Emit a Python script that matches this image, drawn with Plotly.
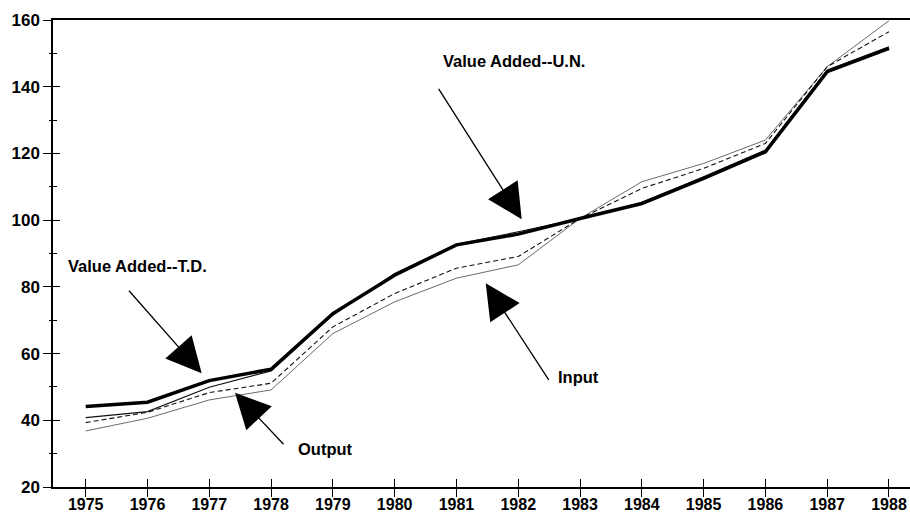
import plotly.graph_objects as go

years = [1975, 1976, 1977, 1978, 1979, 1980, 1981, 1982, 1983, 1984, 1985, 1986, 1987, 1988]
value_added_un = [44.1, 45.4, 51.9, 55.3, 72.0, 83.5, 92.6, 95.8, 100.5, 105.0, 112.5, 120.5, 144.5, 151.5]
value_added_td = [40.8, 42.6, 49.9, 54.8, 71.5, 84.0, 92.8, 96.5, 100.5, 105.3, 113.0, 121.0, 145.0, 152.0]
output_idx = [39.3, 42.4, 48.3, 51.1, 68.0, 78.0, 85.6, 89.1, 100.5, 109.5, 115.5, 123.0, 146.0, 156.5]
input_idx = [36.8, 40.6, 46.1, 49.1, 66.0, 75.5, 82.6, 86.6, 100.5, 111.5, 117.0, 124.0, 146.0, 159.8]

y_ticks = [20, 40, 60, 80, 100, 120, 140, 160]
x_range = [1974.471, 1988.34]
y_range = [20, 160]

FONT = "Liberation Sans, Arial, sans-serif"

fig = go.Figure()
fig.add_trace(go.Scatter(x=years, y=input_idx, mode="lines", name="Input",
                         line=dict(color="#444", width=0.8)))
fig.add_trace(go.Scatter(x=years, y=output_idx, mode="lines", name="Output",
                         line=dict(color="#111", width=1.1, dash="5px,3px")))
fig.add_trace(go.Scatter(x=years, y=value_added_td, mode="lines", name="Value Added--T.D.",
                         line=dict(color="#111", width=1.1)))
fig.add_trace(go.Scatter(x=years, y=value_added_un, mode="lines", name="Value Added--U.N.",
                         line=dict(color="black", width=3.5)))
# invisible traces to carry the overlay axes (tick halves)
for xa, ya in (("x2", "y2"), ("x3", "y3")):
    fig.add_trace(go.Scatter(x=[years[0]], y=[y_ticks[0]], xaxis=xa, yaxis=ya,
                             mode="markers", marker=dict(opacity=0), showlegend=False,
                             hoverinfo="skip"))

common = dict(showgrid=False, zeroline=False, automargin=False)

fig.update_layout(
    width=910, height=512,
    margin=dict(l=53, r=0, t=20, b=25, autoexpand=False),
    paper_bgcolor="white", plot_bgcolor="white",
    showlegend=False,
    xaxis=dict(range=x_range, tickvals=years, ticks="outside", ticklen=2,
               tickwidth=1.2, tickcolor="black",
               showline=True, linecolor="black", linewidth=1.5, mirror=True,
               tickfont=dict(family=FONT, size=16, color="black", weight="bold"),
               **common),
    yaxis=dict(range=y_range, tickvals=y_ticks, ticks="outside", ticklen=8,
               tickwidth=1.2, tickcolor="black",
               showline=True, linecolor="black", linewidth=1.5, mirror=False,
               tickfont=dict(family=FONT, size=17, color="black", weight="bold"),
               minor=dict(ticks="outside", ticklen=2, dtick=10, tickcolor="black",
                          tickwidth=1, showgrid=False),
               **common),
    xaxis2=dict(range=x_range, overlaying="x", anchor="y2", side="bottom",
                tickvals=years, ticks="inside", ticklen=8, tickwidth=1.2,
                tickcolor="black", showticklabels=False, showline=False, **common),
    yaxis2=dict(range=y_range, overlaying="y", anchor="x2", side="left",
                tickvals=y_ticks, ticks="inside", ticklen=7, tickwidth=1.2,
                tickcolor="black", showticklabels=False, showline=False,
                minor=dict(ticks="inside", ticklen=4, dtick=10, tickcolor="black",
                           tickwidth=1, showgrid=False),
                **common),
    xaxis3=dict(range=x_range, overlaying="x", anchor="y3", side="bottom",
                tickvals=years, ticks="outside", ticklen=9, tickwidth=1.2,
                tickcolor="black", showticklabels=False, showline=False, **common),
    yaxis3=dict(range=y_range, overlaying="y", anchor="x3", side="left",
                tickvals=[], showticklabels=False, showline=False, **common),
)

labelfont = dict(family=FONT, size=16.5, color="black", weight="bold")
labels = [
    ("Value Added--T.D.", 1974.681, 86.25),
    ("Value Added--U.N.", 1980.750, 147.8),
    ("Output", 1978.404, 31.4),
    ("Input", 1982.611, 53.0),
]
for txt, lx, ly in labels:
    fig.add_annotation(x=lx, y=ly, text=txt, showarrow=False, xanchor="left",
                       yanchor="middle", font=labelfont)

arrows = [
    (1976.877, 54.1, -74, -84),
    (1982.056, 100.25, -84, -132),
    (1977.416, 48.27, 50, 53),
    (1981.474, 81.07, 64, 98),
]
for ax_x, ax_y, dx, dy in arrows:
    fig.add_annotation(x=ax_x, y=ax_y, text="", showarrow=True, arrowhead=2,
                       arrowsize=5.4, arrowwidth=1.3, arrowcolor="black",
                       ax=dx, ay=dy, standoff=0)

fig.write_html(
    "out.html",
    config={"displayModeBar": False},
    post_script="document.body.style.margin='0';document.body.style.overflow='hidden';",
)
